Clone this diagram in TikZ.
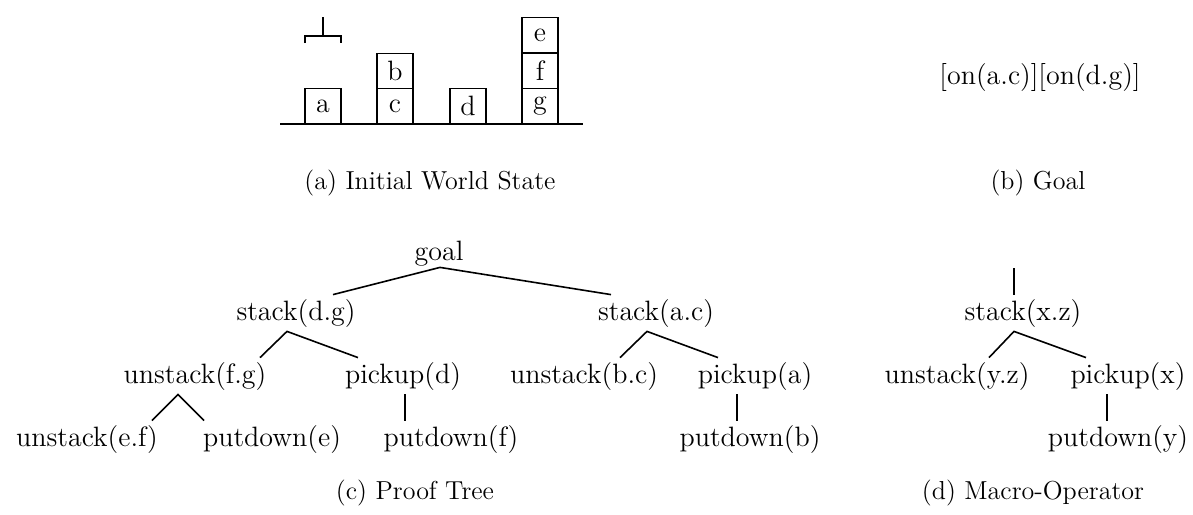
\documentclass[tikz,border=0pt]{standalone}
\usepackage{tikz}
\usetikzlibrary{calc}

\begin{document}
\begin{tikzpicture}[x=0.5pt, y=-0.5pt,
		op/.style={inner sep=2pt, font=\fontsize{14}{17}\selectfont, text height=10.5pt, text depth=3.5pt},
		block/.style={draw, line width=0.9pt, minimum width=18pt, minimum height=17.5pt, inner sep=0pt, font=\fontsize{14}{17}\selectfont},
		caption/.style={font=\fontsize{13}{16}\selectfont},
		link/.style={line width=0.8pt}]
		%%%%% START %%%%%
		
		\useasboundingbox (0, 0) rectangle (1193, 514);
		
		% (a) world state
		\draw[line width=0.9pt] (280, 124) -- (583, 124);
		\draw[line width=0.9pt] (305, 43) -- (305, 36) -- (341, 36) -- (341, 43);
		\draw[line width=0.9pt] (323, 36) -- (323, 17);
		
		\node[block] (ba) at (323, 106) {a};
		\node[block] (bc) at (395, 106) {c};
		\node[block] (bb) at (395, 71) {b};
		\node[block] (bd) at (468, 106) {d};
		\node[block] (bg) at (540, 106) {g};
		\node[block] (bf) at (540, 71) {f};
		\node[block] (be) at (540, 35) {e};
		
		\node[caption] (capa) at (430, 183) {(a) Initial World State};
		
		% (b) goal
		\node[op] (goalstate) at (1040, 77) {[on(a.c)][on(d.g)]};
		\node[caption] (capb) at (1038, 183) {(b) Goal};
		
		% (c) proof tree
		\node[op] (goal) at (439, 253) {goal};
		\node[op] (sdg) at (296, 313) {stack(d.g)};
		\node[op] (sac) at (656, 313) {stack(a.c)};
		\node[op] (ufg) at (195, 376) {unstack(f.g)};
		\node[op] (pud) at (403, 376) {pickup(d)};
		\node[op] (ubc) at (584, 376) {unstack(b.c)};
		\node[op] (pua) at (755, 376) {pickup(a)};
		\node[op] (uef) at (87, 439) {unstack(e.f)};
		\node[op] (pde) at (272, 439) {putdown(e)};
		\node[op] (pdf) at (451, 439) {putdown(f)};
		\node[op] (pdb) at (750, 439) {putdown(b)};
		
		\draw[link] ($(sdg.north)+(37, 0)$) -- ($(goal.south)+(1, -4)$) -- ($(sac.north)+(-45, 0)$);
		\draw[link] ($(ufg.north)+(65, 0)$) -- ($(sdg.south)+(-9, 0)$) -- ($(pud.north)+(-45, 0)$);
		\draw[link] ($(ubc.north)+(36, 0)$) -- ($(sac.south)+(-9, 0)$) -- ($(pua.north)+(-37, 0)$);
		\draw[link] ($(uef.north)+(65, 0)$) -- ($(ufg.south)+(-17, 0)$) -- ($(pde.north)+(-68, 0)$);
		\draw[link] ($(pud.south)+(2, 0)$) -- ($(pdf.north)+(-46, 0)$);
		\draw[link] ($(pua.south)+(-18, 0)$) -- ($(pdb.north)+(-13, 0)$);
		
		\node[caption] (capc) at (415, 493) {(c) Proof Tree};
		
		% (d) macro-operator
		\coordinate (mtop) at (1014, 268);
		\node[op] (sxz) at (1023, 313) {stack(x.z)};
		\node[op] (uyz) at (957, 376) {unstack(y.z)};
		\node[op] (pux) at (1128, 376) {pickup(x)};
		\node[op] (pdy) at (1118, 439) {putdown(y)};
		
		\draw[link] (mtop) -- ($(sxz.north)+(-9, 0)$);
		\draw[link] ($(uyz.north)+(32, 0)$) -- ($(sxz.south)+(-9, 0)$) -- ($(pux.north)+(-42, 0)$);
		\draw[link] ($(pux.south)+(-21, 0)$) -- ($(pdy.north)+(-11, 0)$);
		
		\node[caption] (capd) at (1033, 493) {(d) Macro-Operator};
		
		%%%%% END %%%%%
	\end{tikzpicture}
\end{document}
